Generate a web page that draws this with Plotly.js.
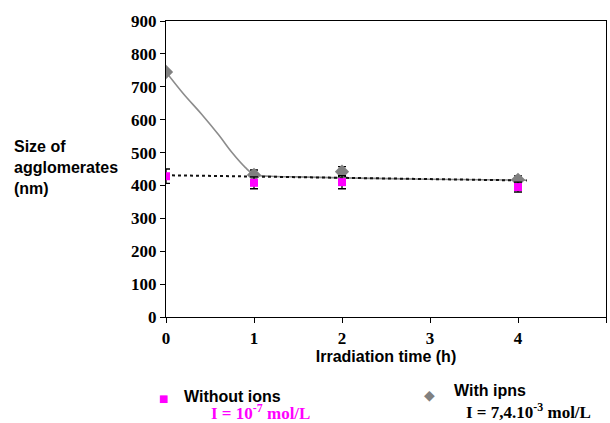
<!DOCTYPE html>
<html><head><meta charset="utf-8">
<script src="https://cdn.plot.ly/plotly-3.0.1.min.js"></script>
<style>html,body{margin:0;padding:0;background:#fff;}#chart{width:610px;height:423px;}</style>
</head><body><div id="chart"></div>
<script>
// Data
const timeH = [0, 1, 2, 4];
const withoutIons = [428, 408, 410, 395];
const withoutIonsErr = [22, 18, 20, 15];
const withIons = [745, 432, 442, 417];
const withIonsErr = [0, 15, 15, 12];
// Trend lines
const trendWithX = [0, 0.2, 0.4, 0.6, 0.75, 0.9, 1.0, 1.2, 1.5, 2, 3, 4.1];
const trendWithY = [745, 678, 618, 553, 500, 455, 433, 428, 426, 423, 419, 416];
const trendWithoutX = [0, 4.1];
const trendWithoutY = [431, 415];
const xTicks = [0, 1, 2, 3, 4, 5];
const yTicks = [0, 100, 200, 300, 400, 500, 600, 700, 800, 900];

const traces = [
  {x: trendWithX, y: trendWithY, mode: 'lines', line: {color: '#8c8c8c', width: 1.6, shape: 'spline'}, hoverinfo: 'skip', showlegend: false},
  {x: trendWithoutX, y: trendWithoutY, mode: 'lines', line: {color: '#111', width: 2, dash: 'dot'}, hoverinfo: 'skip', showlegend: false},
  {x: timeH, y: withIons, mode: 'markers', name: 'With ipns',
   marker: {symbol: 'diamond', size: 11, color: '#808080'},
   error_y: {type: 'data', array: withIonsErr, color: '#000', thickness: 1.3, width: 4}, showlegend: false},
  {x: timeH, y: withoutIons, mode: 'markers', name: 'Without ions',
   marker: {symbol: 'square', size: 8, color: '#ff00ff'},
   error_y: {type: 'data', array: withoutIonsErr, color: '#000', thickness: 1.3, width: 4}, showlegend: false}
];

const sans = 'Liberation Sans, Arial, sans-serif';
const serif = 'Liberation Serif, serif';
const tickFont = {family: serif, size: 17, color: '#000', weight: 'bold'};
const layout = {
  width: 610, height: 423,
  margin: {l: 166, r: 4, t: 21, b: 106},
  paper_bgcolor: '#fff', plot_bgcolor: '#fff',
  showlegend: false,
  xaxis: {range: [0, 5], tickvals: xTicks, ticktext: xTicks.map(String), ticks: 'outside', ticklen: 5,
          tickcolor: '#000', showline: true, linecolor: '#000', linewidth: 1.2, mirror: true,
          showgrid: false, zeroline: false, tickfont: tickFont,
          title: {text: 'Irradiation time (h)', font: {family: sans, size: 16, color: '#000', weight: 'bold'}, standoff: 2}},
  yaxis: {range: [0, 900], tickvals: yTicks, ticktext: yTicks.map(String), ticks: 'outside', ticklen: 5,
          tickcolor: '#000', showline: true, linecolor: '#000', linewidth: 1.2, mirror: true,
          showgrid: false, zeroline: false, tickfont: tickFont},
  annotations: [
    {xref: 'paper', yref: 'paper', x: -0.35, y: 0.612, xanchor: 'left', yanchor: 'top', align: 'left', showarrow: false,
     text: 'Size of<br>agglomerates<br>(nm)', font: {family: sans, size: 16, color: '#000', weight: 'bold'}},
    {xref: 'paper', yref: 'paper', x: -0.005, y: -0.274, xanchor: 'center', yanchor: 'middle', showarrow: false,
     text: '■', font: {family: 'DejaVu Sans', size: 10, color: '#ff00ff'}},
    {xref: 'paper', yref: 'paper', x: 0.037, y: -0.27, xanchor: 'left', yanchor: 'middle', showarrow: false,
     text: 'Without ions', font: {family: sans, size: 16, color: '#000', weight: 'bold'}},
    {xref: 'paper', yref: 'paper', x: 0.098, y: -0.322, xanchor: 'left', yanchor: 'middle', showarrow: false,
     text: 'I = 10<sup>-7</sup> mol/L', font: {family: serif, size: 17, color: '#ff00ff', weight: 'bold'}},
    {xref: 'paper', yref: 'paper', x: 0.598, y: -0.264, xanchor: 'center', yanchor: 'middle', showarrow: false,
     text: '◆', font: {family: 'DejaVu Sans', size: 14, color: '#808080'}},
    {xref: 'paper', yref: 'paper', x: 0.65, y: -0.247, xanchor: 'left', yanchor: 'middle', showarrow: false,
     text: 'With ipns', font: {family: sans, size: 16, color: '#000', weight: 'bold'}},
    {xref: 'paper', yref: 'paper', x: 0.678, y: -0.318, xanchor: 'left', yanchor: 'middle', showarrow: false,
     text: 'I = 7,4.10<sup>-3</sup> mol/L', font: {family: serif, size: 17, color: '#000', weight: 'bold'}}
  ]
};
Plotly.newPlot('chart', traces, layout, {staticPlot: true, displayModeBar: false});
</script></body></html>
